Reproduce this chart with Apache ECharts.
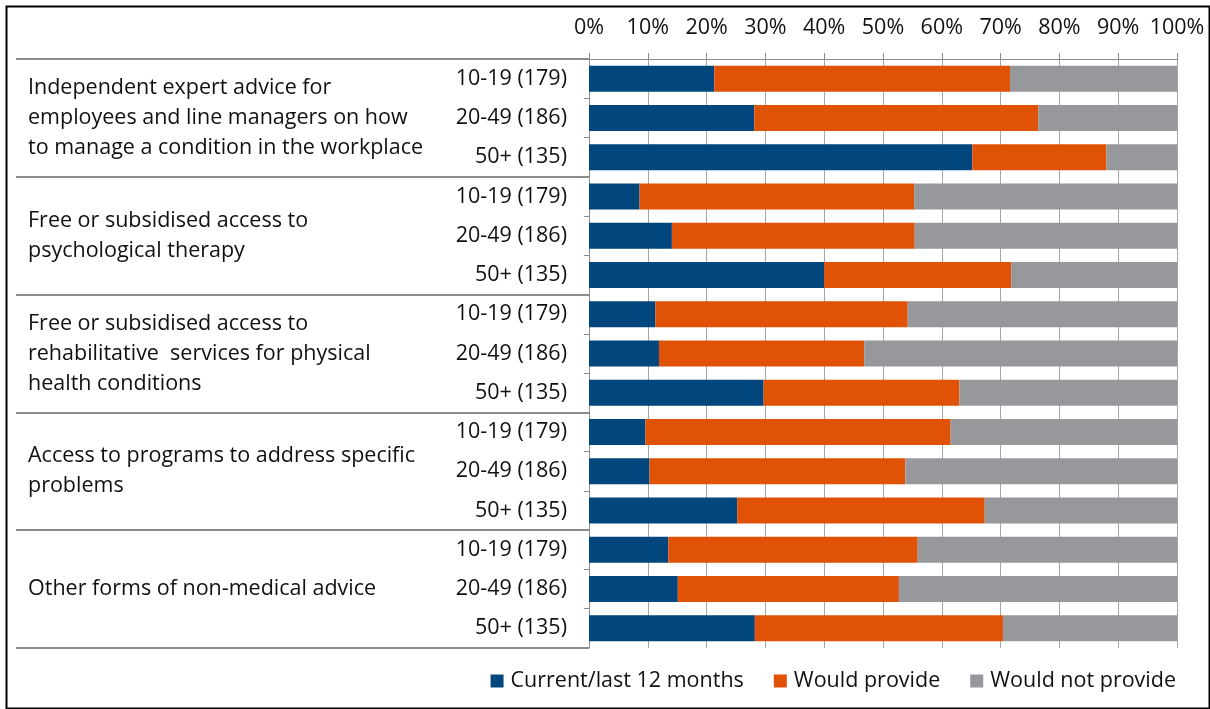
<!DOCTYPE html>
<html>
<head>
<meta charset="utf-8">
<title>Support provided by organisation size</title>
<script src="https://cdn.jsdelivr.net/npm/echarts@6/dist/echarts.min.js"></script>
<style>
  html, body { margin: 0; padding: 0; background: #ffffff; }
  #chart { width: 1210px; height: 709px; }
</style>
</head>
<body>
<div id="chart"></div>
<script>
// Support types (each covers three organisation-size rows)
const groupLabels = [
  'Independent expert advice for\nemployees and line managers on how\nto manage a condition in the workplace',
  'Free or subsidised access to\npsychological therapy',
  'Free or subsidised access to\nrehabilitative  services for physical\nhealth conditions',
  'Access to programs to address specific\nproblems',
  'Other forms of non-medical advice'
];

// Organisation size (number of respondents)
const sizeLabels = [
  '10-19 (179)', '20-49 (186)', '50+ (135)',
  '10-19 (179)', '20-49 (186)', '50+ (135)',
  '10-19 (179)', '20-49 (186)', '50+ (135)',
  '10-19 (179)', '20-49 (186)', '50+ (135)',
  '10-19 (179)', '20-49 (186)', '50+ (135)'
];

const seriesNames = ['Current/last 12 months', 'Would provide', 'Would not provide'];

// Percentages per row, top to bottom
const currentProvision = [21.3, 28.1, 65.2, 8.6, 14.1, 40.0, 11.3, 11.9, 29.7, 9.6, 10.3, 25.2, 13.5, 15.1, 28.2];
const wouldProvide     = [50.3, 48.3, 22.8, 46.7, 41.3, 31.8, 42.9, 34.9, 33.3, 51.9, 43.5, 42.1, 42.4, 37.6, 42.2];
const wouldNotProvide  = [28.4, 23.6, 12.0, 44.7, 44.6, 28.2, 45.8, 53.2, 37.0, 38.5, 46.2, 32.7, 44.1, 47.3, 29.6];

const colors = ['#01467c', '#e05206', '#97989b'];
const FONT = 'Open Sans';
const FONT_SIZE = 21.5;
const TEXT_COLOR = '#111111';

const chart = echarts.init(document.getElementById('chart'), null, { renderer: 'canvas' });

const barSeries = [currentProvision, wouldProvide, wouldNotProvide].map((vals, i) => ({
  name: seriesNames[i],
  type: 'bar',
  stack: 'share',
  xAxisIndex: 0,
  yAxisIndex: 0,
  barWidth: 26,
  itemStyle: { color: colors[i] },
  data: vals
}));

chart.setOption({
  animation: false,
  backgroundColor: '#ffffff',
  textStyle: { fontFamily: FONT },
  color: colors,
  grid: { left: 589, right: 33, top: 59, bottom: 61, containLabel: false },
  legend: {
    bottom: 12,
    right: 29,
    icon: 'rect',
    itemWidth: 13,
    itemHeight: 13,
    itemGap: 30,
    textStyle: { fontFamily: FONT, fontSize: FONT_SIZE, color: TEXT_COLOR, padding: [0, 0, 0, 2] },
    data: seriesNames
  },
  xAxis: {
    type: 'value',
    position: 'top',
    min: 0,
    max: 100,
    interval: 10,
    axisLine: { show: true, lineStyle: { color: '#8c8c8c', width: 1 } },
    axisTick: { show: true, inside: false, length: 6, lineStyle: { color: '#8c8c8c' } },
    axisLabel: { formatter: '{value}%', fontFamily: FONT, fontSize: FONT_SIZE, color: TEXT_COLOR, margin: 20 },
    splitLine: { show: true, lineStyle: { color: '#a6a6a6', width: 1 } }
  },
  yAxis: [
    {
      type: 'category',
      inverse: true,
      position: 'left',
      data: sizeLabels,
      axisLine: { show: true, lineStyle: { color: '#8c8c8c', width: 1 } },
      axisTick: { show: true, inside: false, length: 5, lineStyle: { color: '#8c8c8c' } },
      axisLabel: { fontFamily: FONT, fontSize: FONT_SIZE, color: TEXT_COLOR, margin: 22 }
    },
    {
      type: 'category',
      inverse: true,
      position: 'left',
      data: groupLabels,
      axisLine: { show: false },
      // long boundary ticks act as the group separators in the label column
      axisTick: { show: true, inside: false, length: 573, lineStyle: { color: '#8c8c8c', width: 2 } },
      axisLabel: {
        align: 'left',
        margin: 561,
        fontFamily: FONT,
        fontSize: FONT_SIZE,
        lineHeight: 30,
        color: TEXT_COLOR
      }
    }
  ],
  graphic: [
    {
      type: 'rect',
      left: 4,
      top: 4,
      shape: { width: 1203, height: 702 },
      style: { fill: 'none', stroke: '#000000', lineWidth: 2 },
      silent: true
    }
  ],
  series: barSeries
});
</script>
</body>
</html>
